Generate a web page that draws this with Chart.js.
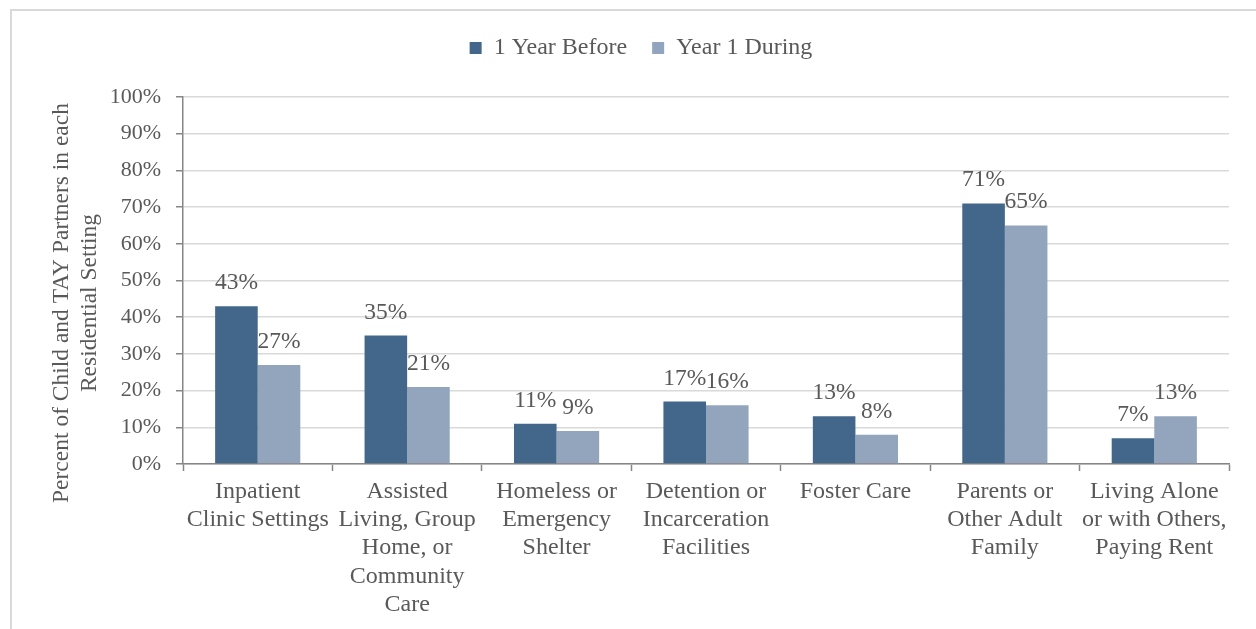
<!DOCTYPE html>
<html>
<head>
<meta charset="utf-8">
<script src="https://cdn.jsdelivr.net/npm/chart.js@4/dist/chart.umd.min.js"></script>
<style>
  html, body { margin: 0; padding: 0; background: #fff; }
  #wrap { width: 1256px; height: 629px; position: relative; }
</style>
</head>
<body>
<div id="wrap"><canvas id="myChart" width="1256" height="629"></canvas></div>
<script>
const categories = [
    ['Inpatient', 'Clinic Settings'],
    ['Assisted', 'Living, Group', 'Home, or', 'Community', 'Care'],
    ['Homeless or', 'Emergency', 'Shelter'],
    ['Detention or', 'Incarceration', 'Facilities'],
    ['Foster Care'],
    ['Parents or', 'Other Adult', 'Family'],
    ['Living Alone', 'or with Others,', 'Paying Rent']
]
const yearBefore = [43, 35, 11, 17, 13, 71, 7]
const yearDuring = [27, 21, 9, 16, 8, 65, 13]
const seriesNames = ['1 Year Before', 'Year 1 During']
const yTitle = ['Percent of Child and TAY Partners in each', 'Residential Setting']

const FONT = '"Liberation Serif", "Times New Roman", serif'
const TEXT = '#595959'

// light frame along the top and left edge
const framePlugin = {
    id: 'frame',
    beforeDraw(chart) {
        const ctx = chart.ctx
        ctx.save()
        ctx.strokeStyle = '#d9d9d9'
        ctx.lineWidth = 2
        ctx.beginPath()
        ctx.moveTo(11, chart.height)
        ctx.lineTo(11, 10)
        ctx.lineTo(chart.width, 10)
        ctx.stroke()
        ctx.restore()
    }
}

// legend keeps a fixed block height so the plot starts lower
const legendHeight = {
    id: 'legendHeight',
    beforeLayout(chart) {
        const legend = chart.legend
        if (legend && !legend._fixedFit) {
            const fit = legend.fit
            legend.fit = function () {
                fit.call(this)
                this.height = 86
            }
            legend._fixedFit = true
        }
    }
}

// two-line rotated y title, sitting a bit below the axis middle
const yTitlePlugin = {
    id: 'yTitle',
    afterDraw(chart) {
        const ctx = chart.ctx
        ctx.save()
        ctx.font = '23.5px ' + FONT
        ctx.fillStyle = TEXT
        ctx.textAlign = 'center'
        ctx.textBaseline = 'middle'
        ctx.translate(62, 303)
        ctx.rotate(-Math.PI / 2)
        yTitle.forEach((line, i) => ctx.fillText(line, 0, i * 28))
        ctx.restore()
    }
}

// percent label above each bar
const valueLabels = {
    id: 'valueLabels',
    afterDatasetsDraw(chart) {
        const ctx = chart.ctx
        ctx.save()
        ctx.font = '23.5px ' + FONT
        ctx.fillStyle = TEXT
        ctx.textAlign = 'center'
        ctx.textBaseline = 'alphabetic'
        chart.data.datasets.forEach((ds, i) => {
            chart.getDatasetMeta(i).data.forEach((bar, j) => {
                ctx.fillText(Math.round(ds.data[j]) + '%', bar.x, bar.y - 17)
            })
        })
        ctx.restore()
    }
}

const ctx = document.getElementById('myChart').getContext('2d')

new Chart(ctx, {
    type: 'bar',
    data: {
        labels: categories,
        datasets: [
            { label: seriesNames[0], data: yearBefore, backgroundColor: '#42678a',
              categoryPercentage: 0.57, barPercentage: 1.0 },
            { label: seriesNames[1], data: yearDuring, backgroundColor: '#93a5bc',
              categoryPercentage: 0.57, barPercentage: 1.0 }
        ]
    },
    options: {
        responsive: false,
        animation: false,
        layout: { padding: { top: 11, left: 53, right: 27, bottom: 0 } },
        plugins: {
            legend: {
                position: 'top',
                labels: {
                    boxWidth: 12,
                    boxHeight: 12,
                    padding: 25,
                    color: TEXT,
                    font: { family: FONT, size: 24 }
                }
            },
            tooltip: { enabled: false }
        },
        scales: {
            x: {
                grid: {
                    display: true,
                    drawOnChartArea: false,
                    drawTicks: true,
                    tickLength: 7,
                    tickColor: '#868686',
                    tickWidth: 1.5,
                    offset: true
                },
                border: { color: '#868686', width: 1.5 },
                ticks: {
                    color: TEXT,
                    padding: 7,
                    maxRotation: 0,
                    autoSkip: false,
                    font: { family: FONT, size: 24, lineHeight: 1.17 }
                },
                afterFit(scale) { scale.height = 165 }
            },
            y: {
                min: 0,
                max: 100,
                grid: {
                    color: '#d9d9d9',
                    lineWidth: 1.5,
                    tickLength: 7,
                    tickColor: '#868686',
                    tickWidth: 1.5
                },
                border: { color: '#868686', width: 1.5 },
                ticks: {
                    stepSize: 10,
                    color: TEXT,
                    padding: 15,
                    font: { family: FONT, size: 22 },
                    callback: v => v + '%'
                },
                afterFit(scale) { scale.width = 130 }
            }
        }
    },
    plugins: [framePlugin, legendHeight, yTitlePlugin, valueLabels]
})
</script>
</body>
</html>
